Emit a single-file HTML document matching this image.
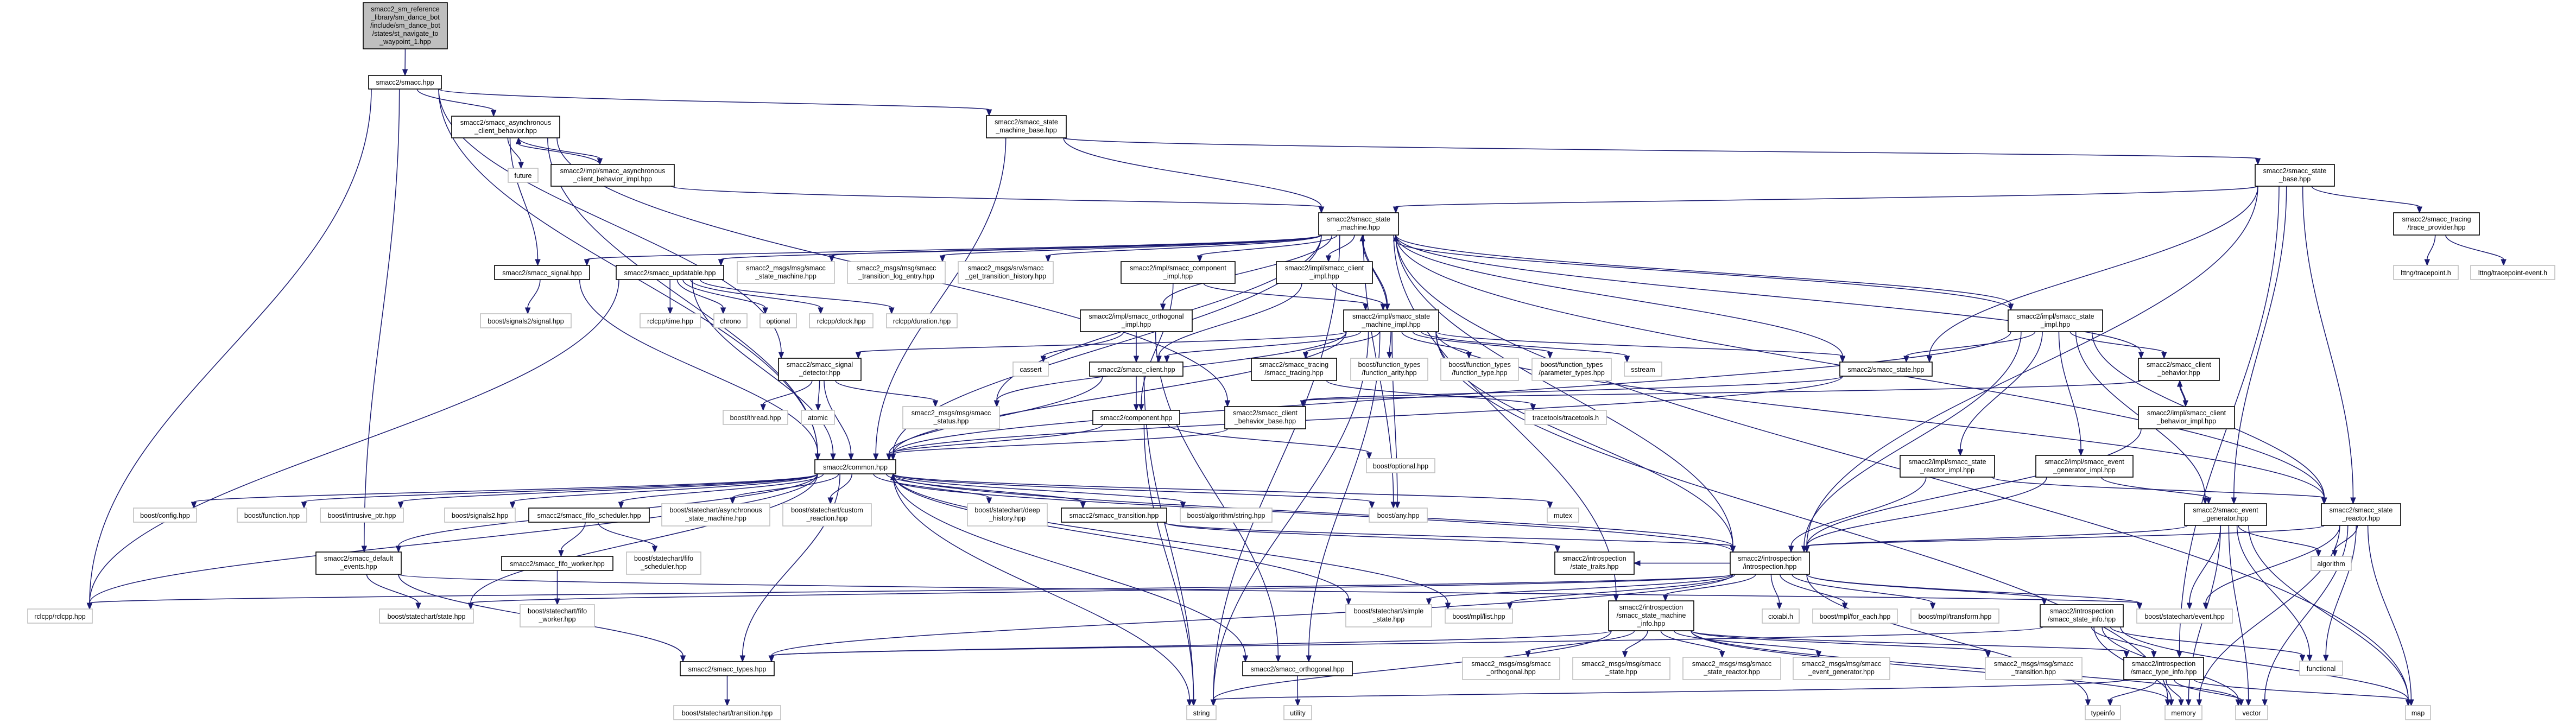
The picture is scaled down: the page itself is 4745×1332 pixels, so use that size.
<!DOCTYPE html>
<html><head><meta charset="utf-8"><style>
html,body{margin:0;padding:0;background:#fff;}
svg{display:block}
.p{fill:#fff;stroke:#000;stroke-width:1.6}
.x{fill:#fff;stroke:#bfbfbf;stroke-width:1.6}
.g{fill:#bfbfbf;stroke:#000;stroke-width:1.6}
text{font-family:"Liberation Sans",Arial,sans-serif;font-size:12.5px;fill:#000;text-anchor:middle}
</style></head><body>
<svg id="s" width="4745" height="1332" viewBox="0 0 4745 1332" xmlns="http://www.w3.org/2000/svg">
<g id="edges"></g>
<g id="nodes">
<rect id="root" class="g" x="669" y="5" width="155" height="85"/><text x="746.5" y="21">smacc2_sm_reference</text><text x="746.5" y="36">_library/sm_dance_bot</text><text x="746.5" y="51">/include/sm_dance_bot</text><text x="746.5" y="66">/states/st_navigate_to</text><text x="746.5" y="81">_waypoint_1.hpp</text>
<rect id="smacc" class="p" x="679" y="139" width="134" height="25"/><text x="746" y="156">smacc2/smacc.hpp</text>
<rect id="acb" class="p" x="832" y="214" width="199" height="40"/><text x="931.5" y="230">smacc2/smacc_asynchronous</text><text x="931.5" y="245">_client_behavior.hpp</text>
<rect id="future" class="x" x="936" y="310" width="55" height="26"/><text x="963.5" y="328">future</text>
<rect id="acbi" class="p" x="1015" y="303" width="227" height="40"/><text x="1128.5" y="319">smacc2/impl/smacc_asynchronous</text><text x="1128.5" y="334">_client_behavior_impl.hpp</text>
<rect id="smb" class="p" x="1817" y="213" width="147" height="41"/><text x="1890.5" y="229">smacc2/smacc_state</text><text x="1890.5" y="244">_machine_base.hpp</text>
<rect id="sm" class="p" x="2429" y="392" width="147" height="41"/><text x="2502.5" y="408">smacc2/smacc_state</text><text x="2502.5" y="423">_machine.hpp</text>
<rect id="sb" class="p" x="4154" y="303" width="146" height="40"/><text x="4227" y="319">smacc2/smacc_state</text><text x="4227" y="334">_base.hpp</text>
<rect id="tp" class="p" x="4409" y="392" width="158" height="41"/><text x="4488" y="408">smacc2/smacc_tracing</text><text x="4488" y="423">/trace_provider.hpp</text>
<rect id="ltt" class="x" x="4409" y="489" width="119" height="26"/><text x="4468.5" y="507">lttng/tracepoint.h</text>
<rect id="ltte" class="x" x="4551" y="489" width="155" height="26"/><text x="4628.5" y="507">lttng/tracepoint-event.h</text>
<rect id="sig" class="p" x="911" y="489" width="175" height="26"/><text x="998.5" y="507">smacc2/smacc_signal.hpp</text>
<rect id="upd" class="p" x="1135" y="489" width="198" height="26"/><text x="1234" y="507">smacc2/smacc_updatable.hpp</text>
<rect id="msm" class="x" x="1358" y="482" width="179" height="40"/><text x="1447.5" y="498">smacc2_msgs/msg/smacc</text><text x="1447.5" y="513">_state_machine.hpp</text>
<rect id="mtl" class="x" x="1561" y="482" width="180" height="40"/><text x="1651" y="498">smacc2_msgs/msg/smacc</text><text x="1651" y="513">_transition_log_entry.hpp</text>
<rect id="mgth" class="x" x="1765" y="482" width="175" height="40"/><text x="1852.5" y="498">smacc2_msgs/srv/smacc</text><text x="1852.5" y="513">_get_transition_history.hpp</text>
<rect id="comp_impl" class="p" x="2065" y="482" width="210" height="40"/><text x="2170" y="498">smacc2/impl/smacc_component</text><text x="2170" y="513">_impl.hpp</text>
<rect id="cli_impl" class="p" x="2351" y="482" width="177" height="40"/><text x="2439.5" y="498">smacc2/impl/smacc_client</text><text x="2439.5" y="513">_impl.hpp</text>
<rect id="sig2s" class="x" x="885" y="578" width="167" height="26"/><text x="968.5" y="596">boost/signals2/signal.hpp</text>
<rect id="rtime" class="x" x="1179" y="578" width="111" height="26"/><text x="1234.5" y="596">rclcpp/time.hpp</text>
<rect id="chrono" class="x" x="1315" y="578" width="61" height="26"/><text x="1345.5" y="596">chrono</text>
<rect id="optional" class="x" x="1400" y="578" width="67" height="26"/><text x="1433.5" y="596">optional</text>
<rect id="rclock" class="x" x="1491" y="578" width="117" height="26"/><text x="1549.5" y="596">rclcpp/clock.hpp</text>
<rect id="rdur" class="x" x="1633" y="578" width="130" height="26"/><text x="1698" y="596">rclcpp/duration.hpp</text>
<rect id="orth_impl" class="p" x="1990" y="571" width="206" height="40"/><text x="2093" y="587">smacc2/impl/smacc_orthogonal</text><text x="2093" y="602">_impl.hpp</text>
<rect id="smi" class="p" x="2475" y="571" width="175" height="40"/><text x="2562.5" y="587">smacc2/impl/smacc_state</text><text x="2562.5" y="602">_machine_impl.hpp</text>
<rect id="stimpl" class="p" x="3699" y="571" width="174" height="40"/><text x="3786" y="587">smacc2/impl/smacc_state</text><text x="3786" y="602">_impl.hpp</text>
<rect id="sd" class="p" x="1434" y="660" width="152" height="41"/><text x="1510" y="676">smacc2/smacc_signal</text><text x="1510" y="691">_detector.hpp</text>
<rect id="cassert" class="x" x="1866" y="667" width="65" height="26"/><text x="1898.5" y="685">cassert</text>
<rect id="client" class="p" x="2007" y="667" width="172" height="26"/><text x="2093" y="685">smacc2/smacc_client.hpp</text>
<rect id="tracing" class="p" x="2305" y="660" width="157" height="41"/><text x="2383.5" y="676">smacc2/smacc_tracing</text><text x="2383.5" y="691">/smacc_tracing.hpp</text>
<rect id="farity" class="x" x="2488" y="660" width="142" height="41"/><text x="2559" y="676">boost/function_types</text><text x="2559" y="691">/function_arity.hpp</text>
<rect id="ftype" class="x" x="2654" y="660" width="143" height="41"/><text x="2725.5" y="676">boost/function_types</text><text x="2725.5" y="691">/function_type.hpp</text>
<rect id="fparam" class="x" x="2822" y="660" width="146" height="41"/><text x="2895" y="676">boost/function_types</text><text x="2895" y="691">/parameter_types.hpp</text>
<rect id="sstream" class="x" x="2992" y="667" width="69" height="26"/><text x="3026.5" y="685">sstream</text>
<rect id="sstate" class="p" x="3389" y="667" width="170" height="26"/><text x="3474" y="685">smacc2/smacc_state.hpp</text>
<rect id="cb" class="p" x="3939" y="660" width="149" height="41"/><text x="4013.5" y="676">smacc2/smacc_client</text><text x="4013.5" y="691">_behavior.hpp</text>
<rect id="bthread" class="x" x="1332" y="756" width="119" height="26"/><text x="1391.5" y="774">boost/thread.hpp</text>
<rect id="atomic" class="x" x="1476" y="756" width="61" height="26"/><text x="1506.5" y="774">atomic</text>
<rect id="mstatus" class="x" x="1663" y="749" width="178" height="41"/><text x="1752" y="765">smacc2_msgs/msg/smacc</text><text x="1752" y="780">_status.hpp</text>
<rect id="comp" class="p" x="2013" y="756" width="160" height="26"/><text x="2093" y="774">smacc2/component.hpp</text>
<rect id="cbb" class="p" x="2256" y="749" width="149" height="41"/><text x="2330.5" y="765">smacc2/smacc_client</text><text x="2330.5" y="780">_behavior_base.hpp</text>
<rect id="tt" class="x" x="2809" y="756" width="150" height="26"/><text x="2884" y="774">tracetools/tracetools.h</text>
<rect id="cbi" class="p" x="3939" y="749" width="177" height="41"/><text x="4027.5" y="765">smacc2/impl/smacc_client</text><text x="4027.5" y="780">_behavior_impl.hpp</text>
<rect id="rimpl" class="p" x="3500" y="839" width="174" height="40"/><text x="3587" y="855">smacc2/impl/smacc_state</text><text x="3587" y="870">_reactor_impl.hpp</text>
<rect id="egimpl" class="p" x="3750" y="839" width="179" height="40"/><text x="3839.5" y="855">smacc2/impl/smacc_event</text><text x="3839.5" y="870">_generator_impl.hpp</text>
<rect id="bopt" class="x" x="2517" y="845" width="126" height="26"/><text x="2580" y="863">boost/optional.hpp</text>
<rect id="common" class="p" x="1501" y="847" width="149" height="26"/><text x="1575.5" y="865">smacc2/common.hpp</text>
<rect id="bconfig" class="x" x="246" y="936" width="116" height="26"/><text x="304" y="954">boost/config.hpp</text>
<rect id="bfunc" class="x" x="437" y="936" width="128" height="26"/><text x="501" y="954">boost/function.hpp</text>
<rect id="bintr" class="x" x="590" y="936" width="153" height="26"/><text x="666.5" y="954">boost/intrusive_ptr.hpp</text>
<rect id="bsig2" class="x" x="819" y="936" width="130" height="26"/><text x="884" y="954">boost/signals2.hpp</text>
<rect id="fifos" class="p" x="974" y="936" width="222" height="26"/><text x="1085" y="954">smacc2/smacc_fifo_scheduler.hpp</text>
<rect id="basm" class="x" x="1219" y="928" width="199" height="41"/><text x="1318.5" y="944">boost/statechart/asynchronous</text><text x="1318.5" y="959">_state_machine.hpp</text>
<rect id="bcr" class="x" x="1442" y="928" width="163" height="41"/><text x="1523.5" y="944">boost/statechart/custom</text><text x="1523.5" y="959">_reaction.hpp</text>
<rect id="bdh" class="x" x="1782" y="928" width="147" height="41"/><text x="1855.5" y="944">boost/statechart/deep</text><text x="1855.5" y="959">_history.hpp</text>
<rect id="trans" class="p" x="1955" y="936" width="194" height="26"/><text x="2052" y="954">smacc2/smacc_transition.hpp</text>
<rect id="balg" class="x" x="2174" y="936" width="169" height="26"/><text x="2258.5" y="954">boost/algorithm/string.hpp</text>
<rect id="bany" class="x" x="2522" y="936" width="107" height="26"/><text x="2575.5" y="954">boost/any.hpp</text>
<rect id="mutex" class="x" x="2850" y="936" width="58" height="26"/><text x="2879" y="954">mutex</text>
<rect id="evgen" class="p" x="4024" y="928" width="151" height="40"/><text x="4099.5" y="944">smacc2/smacc_event</text><text x="4099.5" y="959">_generator.hpp</text>
<rect id="sreact" class="p" x="4276" y="928" width="146" height="40"/><text x="4349" y="944">smacc2/smacc_state</text><text x="4349" y="959">_reactor.hpp</text>
<rect id="defev" class="p" x="582" y="1017" width="157" height="41"/><text x="660.5" y="1033">smacc2/smacc_default</text><text x="660.5" y="1048">_events.hpp</text>
<rect id="fifow" class="p" x="924" y="1025" width="205" height="26"/><text x="1026.5" y="1043">smacc2/smacc_fifo_worker.hpp</text>
<rect id="bfifos" class="x" x="1154" y="1017" width="137" height="41"/><text x="1222.5" y="1033">boost/statechart/fifo</text><text x="1222.5" y="1048">_scheduler.hpp</text>
<rect id="strait" class="p" x="2864" y="1017" width="146" height="41"/><text x="2937" y="1033">smacc2/introspection</text><text x="2937" y="1048">/state_traits.hpp</text>
<rect id="intro" class="p" x="3187" y="1017" width="146" height="41"/><text x="3260" y="1033">smacc2/introspection</text><text x="3260" y="1048">/introspection.hpp</text>
<rect id="algorithm" class="x" x="4257" y="1025" width="74" height="26"/><text x="4294" y="1043">algorithm</text>
<rect id="rclcpp" class="x" x="51" y="1122" width="119" height="26"/><text x="110.5" y="1140">rclcpp/rclcpp.hpp</text>
<rect id="bstate" class="x" x="699" y="1122" width="173" height="26"/><text x="785.5" y="1140">boost/statechart/state.hpp</text>
<rect id="bfifow" class="x" x="958" y="1114" width="137" height="41"/><text x="1026.5" y="1130">boost/statechart/fifo</text><text x="1026.5" y="1145">_worker.hpp</text>
<rect id="bsimple" class="x" x="2479" y="1114" width="158" height="41"/><text x="2558" y="1130">boost/statechart/simple</text><text x="2558" y="1145">_state.hpp</text>
<rect id="mpllist" class="x" x="2662" y="1122" width="124" height="26"/><text x="2724" y="1140">boost/mpl/list.hpp</text>
<rect id="sminfo" class="p" x="2963" y="1107" width="157" height="55"/><text x="3041.5" y="1123">smacc2/introspection</text><text x="3041.5" y="1138">/smacc_state_machine</text><text x="3041.5" y="1153">_info.hpp</text>
<rect id="cxxabi" class="x" x="3246" y="1122" width="68" height="26"/><text x="3280" y="1140">cxxabi.h</text>
<rect id="foreach" class="x" x="3339" y="1122" width="156" height="26"/><text x="3417" y="1140">boost/mpl/for_each.hpp</text>
<rect id="transform" class="x" x="3520" y="1122" width="162" height="26"/><text x="3601" y="1140">boost/mpl/transform.hpp</text>
<rect id="sinfo" class="p" x="3758" y="1114" width="153" height="41"/><text x="3834.5" y="1130">smacc2/introspection</text><text x="3834.5" y="1145">/smacc_state_info.hpp</text>
<rect id="bevent" class="x" x="3936" y="1122" width="176" height="26"/><text x="4024" y="1140">boost/statechart/event.hpp</text>
<rect id="types" class="p" x="1253" y="1219" width="173" height="26"/><text x="1339.5" y="1237">smacc2/smacc_types.hpp</text>
<rect id="orth" class="p" x="2289" y="1219" width="202" height="26"/><text x="2390" y="1237">smacc2/smacc_orthogonal.hpp</text>
<rect id="morth" class="x" x="2694" y="1211" width="179" height="41"/><text x="2783.5" y="1227">smacc2_msgs/msg/smacc</text><text x="2783.5" y="1242">_orthogonal.hpp</text>
<rect id="mstate" class="x" x="2897" y="1211" width="179" height="41"/><text x="2986.5" y="1227">smacc2_msgs/msg/smacc</text><text x="2986.5" y="1242">_state.hpp</text>
<rect id="mreact" class="x" x="3100" y="1211" width="180" height="41"/><text x="3190" y="1227">smacc2_msgs/msg/smacc</text><text x="3190" y="1242">_state_reactor.hpp</text>
<rect id="mevgen" class="x" x="3303" y="1211" width="178" height="41"/><text x="3392" y="1227">smacc2_msgs/msg/smacc</text><text x="3392" y="1242">_event_generator.hpp</text>
<rect id="mtrans" class="x" x="3657" y="1211" width="178" height="41"/><text x="3746" y="1227">smacc2_msgs/msg/smacc</text><text x="3746" y="1242">_transition.hpp</text>
<rect id="tinfo" class="p" x="3912" y="1211" width="147" height="41"/><text x="3985.5" y="1227">smacc2/introspection</text><text x="3985.5" y="1242">/smacc_type_info.hpp</text>
<rect id="functional" class="x" x="4236" y="1218" width="79" height="26"/><text x="4275.5" y="1236">functional</text>
<rect id="btrans" class="x" x="1241" y="1300" width="197" height="26"/><text x="1339.5" y="1318">boost/statechart/transition.hpp</text>
<rect id="string" class="x" x="2186" y="1300" width="54" height="26"/><text x="2213" y="1318">string</text>
<rect id="utility" class="x" x="2365" y="1300" width="51" height="26"/><text x="2390.5" y="1318">utility</text>
<rect id="typeinfo" class="x" x="3841" y="1300" width="65" height="26"/><text x="3873.5" y="1318">typeinfo</text>
<rect id="memory" class="x" x="3988" y="1300" width="68" height="26"/><text x="4022" y="1318">memory</text>
<rect id="vector" class="x" x="4118" y="1300" width="59" height="26"/><text x="4147.5" y="1318">vector</text>
<rect id="map" class="x" x="4431" y="1300" width="46" height="26"/><text x="4454" y="1318">map</text>
</g>
</svg>
<script>
(function(){
var E="root>smacc smacc>acb smacc>smb smacc>defev smacc>common smacc>sd smacc>rclcpp acb>sig acb>future acb>acbi acbi>acb acbi>sm acb>cbb acb>common smb>sb smb>sm smb>common sb>sm sb>sstate sb>tp sb>sreact sb>evgen sb>intro sb>tinfo tp>ltt tp>ltte sm>sig sm>upd sm>msm sm>mtl sm>mgth sm>comp_impl sm>cli_impl sm>orth_impl sm>smi sm>common sm>sstate sm>stimpl sm>intro sm>sminfo sm>bany sm>string sm>map sm>sreact sm>mstatus sm>cb smi>sm smi>client smi>tracing smi>farity smi>ftype smi>fparam smi>sstream smi>sstate smi>intro smi>orth smi>sreact smi>mstatus smi>sd smi>bany smi>common smi>string smi>memory stimpl>sm stimpl>sstate stimpl>cb stimpl>rimpl stimpl>egimpl stimpl>intro stimpl>sreact stimpl>evgen stimpl>common comp_impl>smi comp_impl>comp cli_impl>smi cli_impl>client orth_impl>client orth_impl>cassert orth_impl>orth client>comp client>common client>string comp>bopt comp>common comp>string sig>sig2s sig>common upd>rtime upd>chrono upd>optional upd>rclock upd>rdur upd>rclcpp upd>common sd>bthread sd>atomic sd>mstatus sd>common cbb>common cb>cbb cb>cbi cbi>cb cbi>intro tracing>tt sstate>common sstate>cbb common>bconfig common>bfunc common>bintr common>bsig2 common>fifos common>basm common>bcr common>bdh common>trans common>balg common>bany common>mutex common>bstate common>rclcpp common>defev common>types common>intro common>bsimple common>mpllist common>string common>orth fifos>fifow fifos>bfifos fifow>bfifow defev>bstate defev>types defev>bevent types>btrans trans>intro trans>strait intro>cxxabi intro>foreach intro>transform intro>sinfo intro>bevent intro>sminfo intro>types intro>rclcpp intro>bstate intro>bsimple intro>mpllist intro>typeinfo intro>common intro>strait sminfo>morth sminfo>mstate sminfo>mreact sminfo>mevgen sminfo>mtrans sminfo>types sminfo>tinfo sminfo>string sminfo>memory sminfo>vector sinfo>tinfo sinfo>functional sinfo>memory sinfo>vector sinfo>map sinfo>types tinfo>typeinfo tinfo>memory tinfo>vector tinfo>map tinfo>string rimpl>intro rimpl>sreact egimpl>intro egimpl>evgen evgen>intro evgen>algorithm evgen>bevent evgen>memory evgen>vector evgen>functional evgen>map sreact>intro sreact>algorithm sreact>bevent sreact>functional sreact>vector sreact>map sreact>memory orth>utility".split(" ");
function R(id){var r=document.getElementById(id);var x=+r.getAttribute("x"),y=+r.getAttribute("y"),w=+r.getAttribute("width"),h=+r.getAttribute("height");return{x:x,y:y,w:w,h:h,cx:x+w/2,cy:y+h/2};}
function cl(v,a,b){return Math.max(a,Math.min(b,v));}
var out="",C="#191970";
E.forEach(function(e){var p=e.split(">"),s=R(p[0]),t=R(p[1]);var sx,sy,ex,ey,c1x,c1y,c2x,c2y;
if(t.y>=s.y+s.h+12||s.y>=t.y+t.h+12){var down=t.y>=s.y+s.h+12;
sx=cl(s.cx+(t.cx-s.cx)*0.12,s.x+5,s.x+s.w-5);ex=cl(t.cx+(s.cx-t.cx)*0.12,t.x+5,t.x+t.w-5);
sy=down?s.y+s.h:s.y;ey=down?t.y:t.y+t.h;var dy=ey-sy;c1x=sx;c1y=sy+dy*0.4;c2x=ex;c2y=ey-dy*0.4;}
else{if(t.cx>s.cx){sx=s.x+s.w;ex=t.x;}else{sx=s.x;ex=t.x+t.w;}sy=s.cy;ey=t.cy;c1x=sx+(ex-sx)*0.4;c1y=sy;c2x=ex-(ex-sx)*0.4;c2y=ey;}
var dx=ex-c2x,dd=ey-c2y,L=Math.sqrt(dx*dx+dd*dd);if(L<1){dx=ex-sx;dd=ey-sy;L=Math.sqrt(dx*dx+dd*dd)||1;}
var ux=dx/L,uy=dd/L,bx=ex-ux*11,by=ey-uy*11;
out+='<path d="M'+sx.toFixed(1)+' '+sy.toFixed(1)+'C'+c1x.toFixed(1)+' '+c1y.toFixed(1)+' '+c2x.toFixed(1)+' '+c2y.toFixed(1)+' '+bx.toFixed(1)+' '+by.toFixed(1)+'" fill="none" stroke="'+C+'" stroke-width="1.5"/>';
out+='<polygon points="'+ex.toFixed(1)+','+ey.toFixed(1)+' '+(bx-uy*4.5).toFixed(1)+','+(by+ux*4.5).toFixed(1)+' '+(bx+uy*4.5).toFixed(1)+','+(by-ux*4.5).toFixed(1)+'" fill="'+C+'" stroke="'+C+'"/>';});
document.getElementById("edges").innerHTML=out;})();
</script>
</body></html>
